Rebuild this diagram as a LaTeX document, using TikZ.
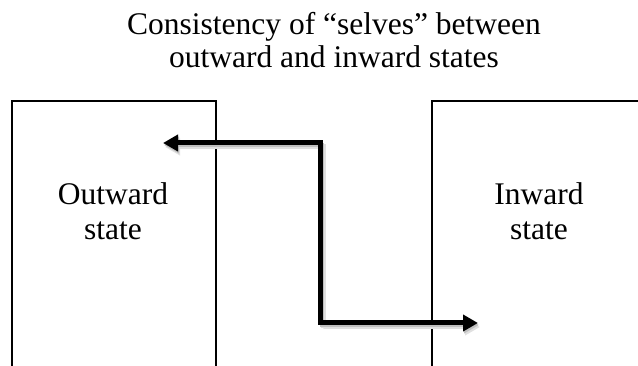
\documentclass[tikz,border=0pt]{standalone}
\usepackage{fontspec}
\setmainfont{Liberation Serif}
\usetikzlibrary{arrows.meta}
\tikzset{
  stateText/.style={anchor=base, inner sep=0pt, align=center, font=\fontsize{31.5}{35}\selectfont},
  frameLine/.style={line width=1.8pt},
  linkArrow/.style={line width=5pt, line join=miter, {Triangle[length=15pt,width=16pt]}-{Triangle[length=15pt,width=16pt]}}
}

\begin{document}
\begin{tikzpicture}[x=1pt,y=-1pt]
\useasboundingbox (0,0) rectangle (638,366);
% title (base anchor sits on the last line)
\node[stateText, font=\fontsize{31.5}{33}\selectfont] (title) at (334,68) {Consistency of “selves” between\\ outward and inward states};
% the two state frames, open towards the page edge
\draw[frameLine] (12,366) -- (12,101) -- (216,101) -- (216,366);
\draw[frameLine] (432,366) -- (432,101) -- (638,101);
\node[stateText] (outward) at (113,240) {Outward\\ state};
\node[stateText] (inward) at (539,240) {Inward\\ state};
% connector with its soft shadow
\coordinate (outTip) at (163,143);
\coordinate (inTip) at (478,323);
\draw[linkArrow, black!12] ([xshift=2pt,yshift=-4pt]outTip) -| (323,328) |- ([xshift=2pt,yshift=-4pt]inTip);
\draw[linkArrow, black!25, line width=4pt] ([xshift=1pt,yshift=-2pt]outTip) -| (322,325) |- ([xshift=1pt,yshift=-2pt]inTip);
\draw[linkArrow] (outTip) -| (320,233) |- (inTip);
\end{tikzpicture}
\end{document}
